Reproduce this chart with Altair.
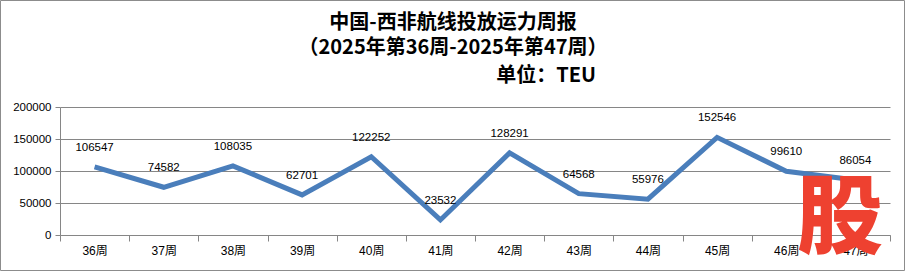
import altair as alt
import pandas as pd

weeks = ["36周", "37周", "38周", "39周", "40周", "41周", "42周", "43周", "44周", "45周", "46周", "47周"]
capacity = [106547, 74582, 108035, 62701, 122252, 23532, 128291, 64568, 55976, 152546, 99610, 86054]
title_line1 = "中国-西非航线投放运力周报"
title_line2 = "（2025年第36周-2025年第47周）"
unit_text = "单位：TEU"
y_ticks = [0, 50000, 100000, 150000, 200000]

df = pd.DataFrame({"week": weeks, "teu": capacity})
one = pd.DataFrame({"a": [0]})

NUMFONT = "Liberation Sans, Noto Sans CJK SC"
CJK = "Noto Sans CJK SC"
GRID = "#868686"

x_enc = alt.X(
    "week:N", sort=weeks, bandPosition=0.5,
    scale=alt.Scale(type="band", paddingInner=0, paddingOuter=0),
    axis=alt.Axis(title=None, labelAngle=0, tickBand="extent", tickSize=6,
                  tickColor=GRID, domainColor=GRID, labelPadding=4,
                  labelFont=NUMFONT, labelFontSize=12, labelColor="#000", grid=False),
)
y_enc = alt.Y(
    "teu:Q", scale=alt.Scale(domain=[0, 200000], nice=False),
    axis=alt.Axis(title=None, values=y_ticks, tickCount=5, format="d", labelOverlap=False,
                  tickSize=5, tickColor=GRID,
                  domainColor=GRID, gridColor=GRID, gridOpacity=1, labelPadding=4,
                  labelFont=NUMFONT, labelFontSize=11.5, labelColor="#000"),
)

line = alt.Chart(df).mark_line(color="#4a7ebb", strokeWidth=5).encode(x=x_enc, y=y_enc)
labels = alt.Chart(df).mark_text(dy=-19, font=NUMFONT, fontSize=11.5, color="#000").encode(
    x=x_enc, y=y_enc, text="teu:Q"
)

def title_text(txt, x, y, align):
    return alt.Chart(one).mark_text(
        text=txt, font=CJK, fontSize=20, fontWeight="bold", align=align,
        baseline="middle", color="#000"
    ).encode(x=alt.value(x), y=alt.value(y))

t1 = title_text(title_line1, 393, -84, "center")
t2 = title_text(title_line2, 393, -59, "center")
unit = title_text(unit_text, 536, -31, "right")

stamp = alt.Chart(one).mark_text(
    text="股", font=CJK, fontSize=86, fontWeight=900,
    align="center", baseline="middle", color="#ee4130"
).encode(x=alt.value(780), y=alt.value(114))

border = alt.Chart(one).mark_rect(filled=False, stroke="#8c8c8c", strokeWidth=1).encode(
    x=alt.value(-59.5), x2=alt.value(844.5), y=alt.value(-106.5), y2=alt.value(163.5)
)

chart = alt.layer(line, labels, t1, t2, unit, stamp, border).properties(
    width=830, height=128,
    autosize=alt.AutoSizeParams(type="none"),
    padding={"left": 60, "top": 107, "right": 16, "bottom": 37},
    background="white",
).configure_view(stroke=None)

chart.save("out.html", embed_options={"renderer": "svg", "actions": False})
